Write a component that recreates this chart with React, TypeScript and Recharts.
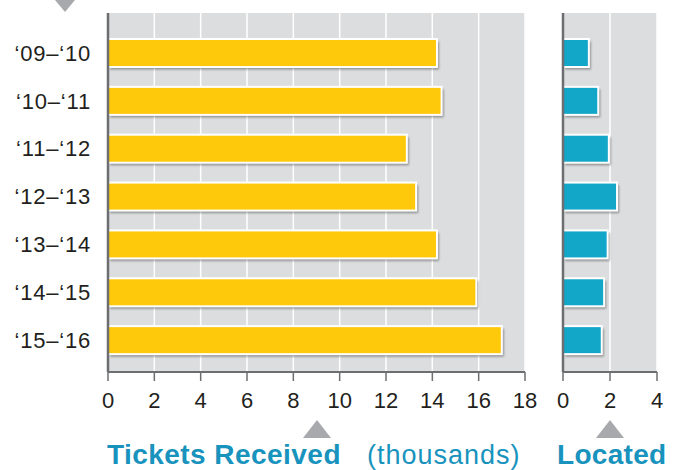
import { BarChart, Bar, XAxis, YAxis, CartesianGrid } from "recharts";

const seasons = ["‘09–‘10", "‘10–‘11", "‘11–‘12", "‘12–‘13", "‘13–‘14", "‘14–‘15", "‘15–‘16"];
const ticketsReceived = [14.2, 14.4, 12.9, 13.3, 14.2, 15.9, 17.0];
const ticketsLocated = [1.1, 1.5, 1.95, 2.3, 1.9, 1.75, 1.65];
const receivedTicks = [0, 2, 4, 6, 8, 10, 12, 14, 16, 18];
const locatedTicks = [0, 2, 4];

const data = seasons.map((season, i) => ({
  season,
  received: ticketsReceived[i],
  located: ticketsLocated[i],
}));

const FONT = "'Liberation Sans', Arial, sans-serif";
const GREY_BG = "#DCDDDF";
const AXIS = "#6D6E71";
const TEAL = "#1893BD";

const ShadowBar = (props: any) => {
  const { x, y, width, height, fill } = props;
  if (!width || width <= 0) return null;
  return (
    <g>
      <rect x={x + 2} y={y + 2.5} width={width} height={height} fill="#000" opacity={0.35} filter="url(#barShadow)" />
      <rect x={x} y={y} width={width} height={height} fill={fill} stroke="#fff" strokeWidth={2} />
    </g>
  );
};

const tickStyle = { fill: "#231F20", fontSize: 22, fontFamily: FONT };

export default function App() {
  return (
    <div style={{ position: "absolute", left: 0, top: 0, width: 678, height: 470, background: "#fff" }}>
      <svg width={0} height={0} style={{ position: "absolute" }}>
        <defs>
          <filter id="barShadow" x="-10%" y="-30%" width="120%" height="160%">
            <feGaussianBlur stdDeviation="1.2" />
          </filter>
        </defs>
      </svg>

      {/* Tickets received */}
      <div style={{ position: "absolute", left: 0, top: 0 }}>
        <BarChart
          width={540}
          height={470}
          data={data}
          layout="vertical"
          margin={{ top: 13, right: 15, left: 0, bottom: 68 }}
        >
          <CartesianGrid horizontal={false} stroke="#fff" strokeWidth={1.5} fill={GREY_BG} />
          <XAxis
            type="number"
            dataKey="received"
            domain={[0, 18]}
            ticks={receivedTicks}
            height={30}
            stroke={AXIS}
            axisLine={{ stroke: AXIS, strokeWidth: 2 }}
            tickLine={{ stroke: AXIS, strokeWidth: 1.5 }}
            tickSize={9}
            tickMargin={11}
            tick={tickStyle}
          />
          <Bar
            dataKey="received"
            fill="#FFC90B"
            barSize={28}
            shape={<ShadowBar />}
            isAnimationActive={false}
          />
          <YAxis
            type="category"
            dataKey="season"
            width={108}
            padding={{ top: 16, bottom: 8 }}
            axisLine={{ stroke: AXIS, strokeWidth: 2.5 }}
            tickLine={false}
            tickSize={0}
            tickMargin={17}
            tick={{ ...tickStyle, letterSpacing: 0.8 }}
          />
        </BarChart>
      </div>

      {/* Located */}
      <div style={{ position: "absolute", left: 540, top: 0 }}>
        <BarChart
          width={138}
          height={470}
          data={data}
          layout="vertical"
          margin={{ top: 13, right: 21, left: 0, bottom: 68 }}
        >
          <CartesianGrid horizontal={false} stroke="#fff" strokeWidth={1.5} fill={GREY_BG} />
          <XAxis
            type="number"
            dataKey="located"
            domain={[0, 4]}
            ticks={locatedTicks}
            height={30}
            stroke={AXIS}
            axisLine={{ stroke: AXIS, strokeWidth: 2 }}
            tickLine={{ stroke: AXIS, strokeWidth: 1.5 }}
            tickSize={9}
            tickMargin={11}
            tick={tickStyle}
          />
          <Bar
            dataKey="located"
            fill="#12A6C9"
            barSize={28}
            shape={<ShadowBar />}
            isAnimationActive={false}
          />
          <YAxis
            type="category"
            dataKey="season"
            width={23}
            padding={{ top: 16, bottom: 8 }}
            axisLine={{ stroke: AXIS, strokeWidth: 2.5 }}
            tickLine={false}
            tick={false}
          />
        </BarChart>
      </div>

      {/* markers and axis titles */}
      <svg width={678} height={470} style={{ position: "absolute", left: 0, top: 0, pointerEvents: "none" }}>
        <polygon points="55,0 75,0 65,12" fill="#A7A9AC" />
        <polygon points="303,438 331,438 317,420" fill="#A7A9AC" />
        <polygon points="596,438 624,438 610,420" fill="#A7A9AC" />
        <text x={107} y={464} fill={TEAL} fontFamily={FONT} fontSize={28} fontWeight="bold" letterSpacing={0.45}>
          Tickets Received
        </text>
        <text x={367} y={464} fill={TEAL} fontFamily={FONT} fontSize={27} letterSpacing={1}>
          (thousands)
        </text>
        <text x={557} y={464} fill={TEAL} fontFamily={FONT} fontSize={28} fontWeight="bold" letterSpacing={0.3}>
          Located
        </text>
      </svg>
    </div>
  );
}
